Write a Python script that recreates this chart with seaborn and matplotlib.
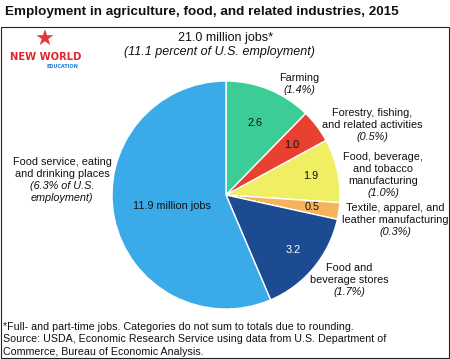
import numpy as np
import matplotlib
matplotlib.use("Agg")
import matplotlib.pyplot as plt
import seaborn as sns
from matplotlib.patches import Rectangle

sns.set_theme(style="white")
plt.rcParams["font.family"] = ["Liberation Sans", "DejaVu Sans"]

# data (million jobs), clockwise from 12 o'clock
sectors = ["Farming", "Forestry", "Food mfg", "Textile", "Food stores", "Food service"]
jobs = [2.6, 1.0, 1.9, 0.5, 3.2, 11.9]
inner_labels = ["2.6", "1.0", "1.9", "0.5", "3.2", "11.9 million jobs"]
colors = ["#3ccc96", "#e8412f", "#f0ee62", "#f6b35a", "#1d4b92", "#3aabe8"]
label_colors = ["#111111", "#111111", "#111111", "#111111", "white", "#111111"]
outer_names = ["Farming", "Forestry, fishing,\nand related activities",
               "Food, beverage,\nand tobacco\nmanufacturing",
               "Textile, apparel, and\nleather manufacturing",
               "Food and\nbeverage stores",
               "Food service, eating\nand drinking places"]
outer_shares = ["(1.4%)", "(0.5%)", "(1.0%)", "(0.3%)", "(1.7%)", "(6.3% of U.S.\nemployment)"]

W, H = 450, 359
fig = plt.figure(figsize=(4.5, 3.59), dpi=100)
ax = fig.add_axes([0, 0, 1, 1])
cx, cy, r = 226, H - 195, 114

wedges, _ = ax.pie(jobs, colors=colors, startangle=90, counterclock=False,
                   center=(cx, cy), radius=r,
                   wedgeprops=dict(edgecolor="white", linewidth=1.0))
ax.set_xlim(0, W)
ax.set_ylim(0, H)
ax.set_aspect("equal")
ax.axis("off")

# values inside wedges
inner_r = [0.68, 0.72, 0.76, 0.76, 0.76, 0.48]
for w, lab, lc, rr in zip(wedges, inner_labels, label_colors, inner_r):
    ang = np.deg2rad((w.theta1 + w.theta2) / 2)
    ax.text(cx + rr * r * np.cos(ang), cy + rr * r * np.sin(ang), lab,
            ha="center", va="center", fontsize=7.8, color=lc)

# outside labels (pixel centre of first line, from top)
outer_pos = [(299, 78), (372, 113), (383, 157), (395, 208), (349, 268), (62, 162)]
lh = 12
for (px, py), name, share in zip(outer_pos, outer_names, outer_shares):
    lines = name.split("\n") + share.split("\n")
    for i, line in enumerate(lines):
        italic = i >= name.count("\n") + 1
        ax.text(px, H - py - i * lh, line, ha="center", va="center", fontsize=7.8,
                style="italic" if italic else "normal", color="#111111")

# header inside frame
ax.text(226, H - 38, "21.0 million jobs*", ha="center", va="center", fontsize=9, color="#111111")
ax.text(219, H - 52, "(11.1 percent of U.S. employment)", ha="center", va="center",
        fontsize=9, style="italic", color="#111111")

# logo
ax.text(45, H - 40, "\u2605", ha="center", va="center", fontsize=16, color="#e23a3a",
        family="DejaVu Sans")
ax.text(46, H - 57, "NEW WORLD", ha="center", va="center", fontsize=7.2,
        fontweight="bold", color="#e0262e", family="DejaVu Sans")
ax.text(62, H - 66, "EDUCATION", ha="center", va="center", fontsize=3.5,
        fontweight="bold", color="#1e7fd0", family="DejaVu Sans")

# frame
ax.add_patch(Rectangle((1, 1.5), W - 2.5, H - 28, fill=False, edgecolor="#222222", linewidth=0.8))

# title and footnotes
ax.text(5, H - 12, "Employment in agriculture, food, and related industries, 2015",
        ha="left", va="center", fontsize=9.7, fontweight="bold", color="#111111")
foot = ["*Full- and part-time jobs. Categories do not sum to totals due to rounding.",
        "Source: USDA, Economic Research Service using data from U.S. Department of",
        "Commerce, Bureau of Economic Analysis."]
for i, line in enumerate(foot):
    ax.text(3, H - 327 - i * 12.5, line, ha="left", va="center", fontsize=7.7, color="#111111")

fig.savefig("out.png", dpi=100)
